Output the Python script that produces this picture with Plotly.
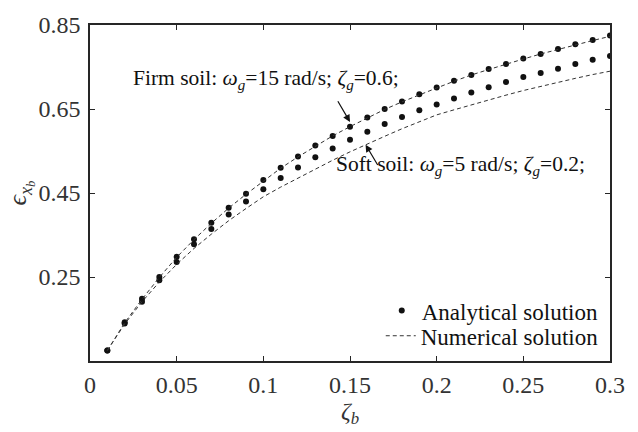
import plotly.graph_objects as go

zeta_b = [0.01, 0.02, 0.03, 0.04, 0.05, 0.06, 0.07, 0.08, 0.09, 0.10,
          0.11, 0.12, 0.13, 0.14, 0.15, 0.16, 0.17, 0.18, 0.19, 0.20,
          0.21, 0.22, 0.23, 0.24, 0.25, 0.26, 0.27, 0.28, 0.29, 0.30]

firm_analytical = [0.075, 0.142, 0.198, 0.250, 0.298, 0.340, 0.379, 0.415, 0.448, 0.481,
                   0.510, 0.537, 0.563, 0.586, 0.608, 0.630, 0.650, 0.668, 0.685, 0.701,
                   0.717, 0.731, 0.745, 0.757, 0.770, 0.781, 0.793, 0.804, 0.814, 0.825]
soft_analytical = [0.075, 0.139, 0.191, 0.242, 0.286, 0.328, 0.364, 0.399, 0.430, 0.459,
                   0.486, 0.511, 0.535, 0.556, 0.577, 0.596, 0.614, 0.631, 0.647, 0.661,
                   0.675, 0.689, 0.702, 0.714, 0.726, 0.736, 0.746, 0.757, 0.767, 0.776]
firm_numerical = [0.075, 0.141, 0.197, 0.249, 0.297, 0.339, 0.378, 0.414, 0.447, 0.479,
                  0.509, 0.536, 0.562, 0.586, 0.608, 0.629, 0.649, 0.667, 0.684, 0.700,
                  0.716, 0.731, 0.744, 0.757, 0.769, 0.781, 0.792, 0.803, 0.813, 0.823]
soft_numerical = [0.075, 0.138, 0.191, 0.238, 0.280, 0.318, 0.352, 0.384, 0.413, 0.441,
                  0.464, 0.486, 0.507, 0.528, 0.548, 0.567, 0.585, 0.603, 0.620, 0.636,
                  0.648, 0.660, 0.672, 0.683, 0.694, 0.704, 0.714, 0.723, 0.732, 0.740]

x_ticks = [0, 0.05, 0.1, 0.15, 0.2, 0.25, 0.3]
x_labels = ["0", "0.05", "0.1", "0.15", "0.2", "0.25", "0.3"]
y_ticks = [0.25, 0.45, 0.65, 0.85]
y_labels = ["0.25", "0.45", "0.65", "0.85"]

FONT = "Times New Roman"
AX = "#262626"
DOT = "#111111"

fig = go.Figure()
fig.add_trace(go.Scatter(x=zeta_b, y=firm_analytical, mode="markers",
                         marker=dict(color=DOT, size=6),
                         name="Analytical solution", legend="legend", showlegend=True))
fig.add_trace(go.Scatter(x=zeta_b, y=soft_analytical, mode="markers",
                         marker=dict(color=DOT, size=6),
                         name="Analytical solution", showlegend=False))
fig.add_trace(go.Scatter(x=zeta_b, y=firm_numerical, mode="lines",
                         line=dict(color="#333333", width=1, dash="4px,3px"),
                         name="Numerical solution", legend="legend2", showlegend=True))
fig.add_trace(go.Scatter(x=zeta_b, y=soft_numerical, mode="lines",
                         line=dict(color="#333333", width=1, dash="4px,3px"),
                         name="Numerical solution", showlegend=False))

axis_common = dict(showline=True, linecolor=AX, linewidth=1.5, mirror="ticks",
                   ticks="inside", ticklen=5, tickwidth=1.2, tickcolor=AX,
                   showgrid=False, zeroline=False,
                   tickfont=dict(family=FONT, size=24, color="#333333"))

fig.update_xaxes(range=[0, 0.3], tickvals=x_ticks, ticktext=x_labels,
                 ticklabelstandoff=1,
                 title=dict(text="<i>ζ<sub>b</sub></i>", font=dict(family=FONT, size=24, color="#333333"),
                            standoff=2),
                 **axis_common)
fig.update_yaxes(range=[0.05, 0.85], tickvals=y_ticks, ticktext=y_labels,
                 ticklabelstandoff=3,
                 title=dict(text="<i>ϵ<sub>x<sub>b</sub></sub></i>", font=dict(family=FONT, size=26, color="#333333"),
                            standoff=0),
                 **axis_common)

ann_font = dict(family=FONT, size=21.5, color="#111111")
fig.add_annotation(x=0.1015, y=0.72, xref="x", yref="y", showarrow=False,
                   text="Firm soil: <i>ω<sub>g</sub></i>=15 rad/s; <i>ζ<sub>g</sub></i>=0.6;",
                   font=ann_font)
fig.add_annotation(x=0.214, y=0.515, xref="x", yref="y", showarrow=False,
                   text="Soft soil: <i>ω<sub>g</sub></i>=5 rad/s; <i>ζ<sub>g</sub></i>=0.2;",
                   font=ann_font)
fig.add_annotation(x=0.150, y=0.619, ax=0.1425, ay=0.672, xref="x", yref="y",
                   axref="x", ayref="y", text="", showarrow=True,
                   arrowhead=2, arrowsize=1.2, arrowwidth=1.2, arrowcolor="#111111")
fig.add_annotation(x=0.159, y=0.565, ax=0.1665, ay=0.513, xref="x", yref="y",
                   axref="x", ayref="y", text="", showarrow=True,
                   arrowhead=2, arrowsize=1.2, arrowwidth=1.2, arrowcolor="#111111")

leg_common = dict(xanchor="right", yanchor="middle", bgcolor="rgba(0,0,0,0)",
                  font=dict(family=FONT, size=23, color="#111111"), itemwidth=30)
fig.update_layout(
    width=638, height=432,
    margin=dict(l=90, r=28, t=14, b=71),
    paper_bgcolor="white", plot_bgcolor="white",
    font=dict(family=FONT, color="#111111"),
    legend=dict(x=0.988, y=0.150, **leg_common),
    legend2=dict(x=0.988, y=0.075, **leg_common),
)

fig.write_html("out.html")
